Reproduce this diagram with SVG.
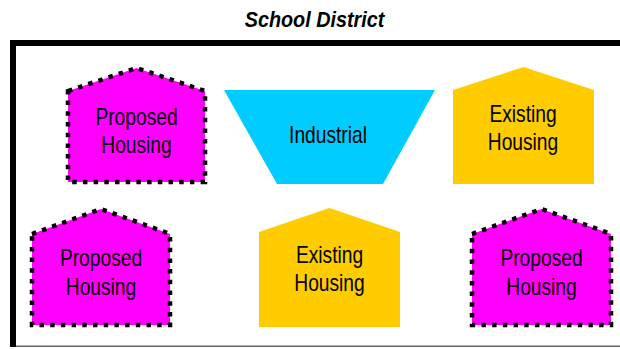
<svg xmlns="http://www.w3.org/2000/svg" width="620" height="349" viewBox="0 0 620 349">
<style>
.lbl{font-family:"Liberation Sans",Arial,sans-serif;font-size:24px;fill:#000;text-anchor:middle}
.title{font-family:"Liberation Sans",Arial,sans-serif;font-size:22px;font-weight:bold;font-style:italic;fill:#000;text-anchor:middle}
.prop{fill:#FF00FF;stroke:#000;stroke-width:4.5;stroke-dasharray:4.5 6.2}
.exist{fill:#FFCC00}
.ind{fill:#00CCFF}
</style>
<rect x="0" y="0" width="620" height="349" fill="#fff"/>
<g id="district">
<rect x="10" y="40" width="610" height="6" fill="#000"/>
<rect x="10" y="40" width="6" height="307" fill="#000"/>
<rect x="16" y="345.5" width="604" height="1.5" fill="#666"/>
<text class="title" transform="matrix(0.9 0 0 1 314.5 0)" x="0" y="27">School District</text>
</g>
<g id="connectors"></g>
<g id="proposed1">
<polygon class="prop" points="68,91 136.5,68 205,91 205,182 68,182"/>
<text class="lbl" transform="matrix(0.8 0 0 1 136.5 0)"><tspan x="0" y="125.5">Proposed</tspan><tspan x="0" y="153.5">Housing</tspan></text>
</g>
<g id="industrial">
<polygon class="ind" points="224,90 435,90 383,184 277,184"/>
<text class="lbl" transform="matrix(0.8 0 0 1 328 0)" x="0" y="143">Industrial</text>
</g>
<g id="existing1">
<polygon class="exist" points="453,90 523.5,67 594,90 594,184 453,184"/>
<text class="lbl" transform="matrix(0.8 0 0 1 523 0)"><tspan x="0" y="122">Existing</tspan><tspan x="0" y="150">Housing</tspan></text>
</g>
<g id="proposed2">
<polygon class="prop" points="32,234 101,209 170,234 170,325 32,325"/>
<text class="lbl" transform="matrix(0.8 0 0 1 101 0)"><tspan x="0" y="266.5">Proposed</tspan><tspan x="0" y="295">Housing</tspan></text>
</g>
<g id="existing2">
<polygon class="exist" points="259,232 329.5,208 400,232 400,327 259,327"/>
<text class="lbl" transform="matrix(0.8 0 0 1 329.5 0)"><tspan x="0" y="263.5">Existing</tspan><tspan x="0" y="291.5">Housing</tspan></text>
</g>
<g id="proposed3">
<polygon class="prop" points="472,234 541.5,209 611,234 611,325 472,325"/>
<text class="lbl" transform="matrix(0.8 0 0 1 541.5 0)"><tspan x="0" y="266.5">Proposed</tspan><tspan x="0" y="295">Housing</tspan></text>
</g>
</svg>
